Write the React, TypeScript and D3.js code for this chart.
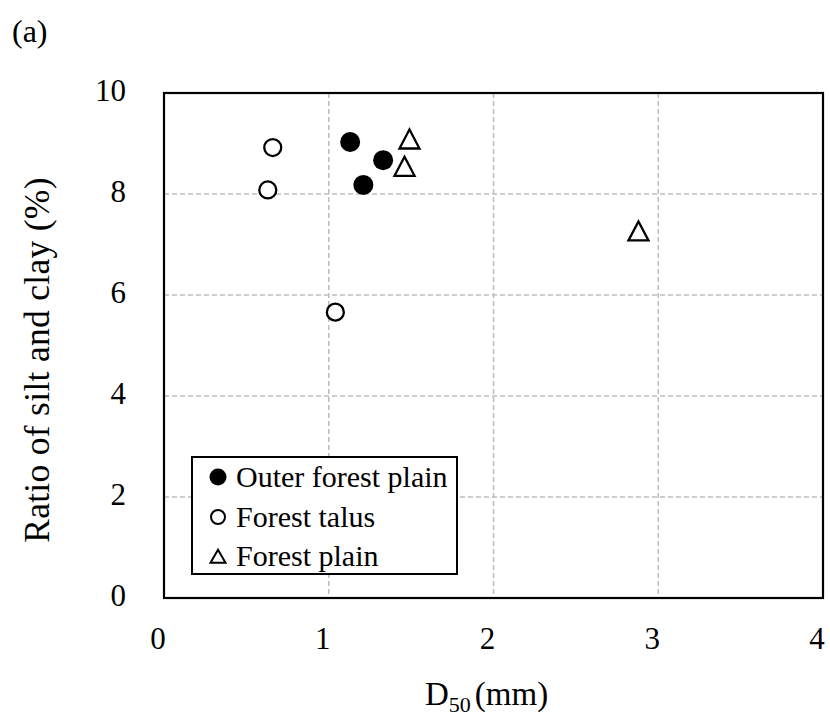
import React from "react";
import * as d3 from "d3";

const outerForestPlain = [
  { x: 1.13, y: 9.03 },
  { x: 1.33, y: 8.67 },
  { x: 1.21, y: 8.18 },
];
const forestTalus = [
  { x: 0.66, y: 8.92 },
  { x: 0.63, y: 8.08 },
  { x: 1.04, y: 5.66 },
];
const forestPlain = [
  { x: 1.49, y: 9.07 },
  { x: 1.46, y: 8.53 },
  { x: 2.88, y: 7.25 },
];
const xTicks = [0, 1, 2, 3, 4];
const yTicks = [0, 2, 4, 6, 8, 10];
const legendLabels = ["Outer forest plain", "Forest talus", "Forest plain"];

const W = 830, H = 723;
const L = 164, R = 823, T = 93, B = 598;
const font = "'Liberation Serif', 'Times New Roman', serif";

function tri(cx: number, cy: number, w: number, h: number) {
  return `M${cx},${cy - h * 0.55} L${cx + w / 2},${cy + h * 0.45} L${cx - w / 2},${cy + h * 0.45} Z`;
}

export default function App() {
  const x = d3.scaleLinear().domain([0, 4]).range([L, R]);
  const y = d3.scaleLinear().domain([0, 10]).range([B, T]);
  return (
    <svg width={W} height={H} style={{ position: "absolute", left: 0, top: 0, background: "#fff" }}>
      <rect x={0} y={0} width={W} height={H} fill="#fff" />
      {xTicks.slice(1, -1).map((t) => (
        <line key={"gx" + t} x1={x(t)} x2={x(t)} y1={T} y2={B} stroke="#bdbdbd" strokeWidth={1.5} strokeDasharray="5,3" />
      ))}
      {yTicks.slice(1, -1).map((t) => (
        <line key={"gy" + t} x1={L} x2={R} y1={y(t)} y2={y(t)} stroke="#bdbdbd" strokeWidth={1.5} strokeDasharray="5,3" />
      ))}
      <rect x={L} y={T} width={R - L} height={B - T} fill="none" stroke="#000" strokeWidth={2.2} />
      {xTicks.map((t) => (
        <text key={"xt" + t} x={x(t) - 6} y={B + 40} textAnchor="middle" dominantBaseline="central" fontFamily={font} fontSize={31}>{t}</text>
      ))}
      {yTicks.map((t) => (
        <text key={"yt" + t} x={126} y={y(t) - 3} textAnchor="end" dominantBaseline="central" fontFamily={font} fontSize={31}>{t}</text>
      ))}
      {forestTalus.map((d, i) => (
        <circle key={"ft" + i} cx={x(d.x)} cy={y(d.y)} r={8.5} fill="#fff" stroke="#000" strokeWidth={2.3} />
      ))}
      {outerForestPlain.map((d, i) => (
        <circle key={"ofp" + i} cx={x(d.x)} cy={y(d.y)} r={10} fill="#000" />
      ))}
      {forestPlain.map((d, i) => (
        <path key={"fp" + i} d={tri(x(d.x), y(d.y), 20, 19)} fill="#fff" stroke="#000" strokeWidth={2.3} strokeLinejoin="miter" />
      ))}
      <rect x={192} y={457} width={265} height={117} fill="#fff" stroke="#000" strokeWidth={2} />
      <circle cx={218} cy={477} r={8.5} fill="#000" />
      <circle cx={218} cy={517} r={7} fill="#fff" stroke="#000" strokeWidth={2} />
      <path d={tri(218, 557, 15, 13)} fill="#fff" stroke="#000" strokeWidth={2} />
      {legendLabels.map((l, i) => (
        <text key={l} x={236} y={487 + i * 39.5} fontFamily={font} fontSize={30}>{l}</text>
      ))}
      <text x={12} y={31} dominantBaseline="central" fontFamily={font} fontSize={32}>(a)</text>
      <text transform={`translate(37,360) rotate(-90)`} textAnchor="middle" dominantBaseline="central" fontFamily={font} fontSize={35.5} letterSpacing={0.3}>Ratio of silt and clay (%)</text>
      <text x={425} y={705} fontFamily={font} fontSize={33}>
        D<tspan fontSize={22} dy={7}>50</tspan><tspan dy={-7} dx={4}>(mm)</tspan>
      </text>
    </svg>
  );
}
